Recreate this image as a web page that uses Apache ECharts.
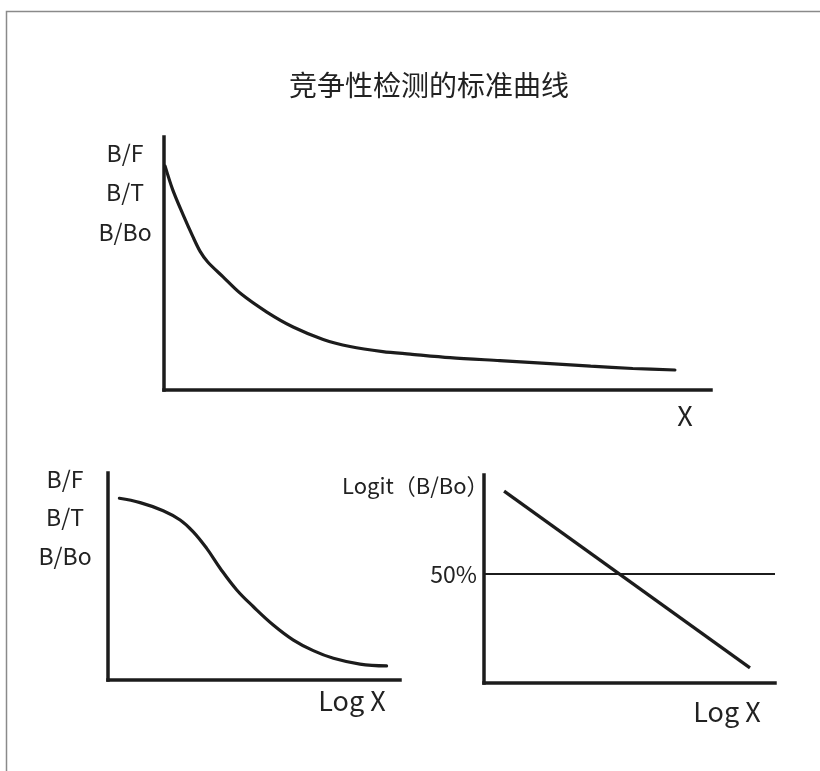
<!DOCTYPE html>
<html>
<head>
<meta charset="utf-8">
<script src="https://cdn.jsdelivr.net/npm/echarts@6/dist/echarts.min.js"></script>
<style>
html,body{margin:0;padding:0;background:#fff;}
#chart{width:820px;height:771px;}
</style>
</head>
<body>
<div id="chart"></div>
<script>
// ---- data ----
const titleText = '竞争性检测的标准曲线';
const yLabels = ['B/F', 'B/T', 'B/Bo'];
const topXName = 'X';
const logXName = 'Log X';
const logitName = 'Logit（B/Bo）';
const midLabel = '50%';

// top: B/F vs X (hyperbolic decay)
const topX = [0.2, 1.6, 3.5, 5.3, 6.6, 8.0, 10.8, 13.9, 18.8, 23.6, 29.1, 34.0, 40.0, 45.0, 52.3, 61.4, 70.6, 78.0, 85.7, 93.4];
const topY = [88.5, 79.1, 69.2, 60.5, 54.8, 50.6, 44.7, 38.3, 30.8, 24.9, 20.0, 17.2, 15.2, 14.2, 12.8, 11.6, 10.4, 9.4, 8.5, 7.9];

// bottom-left: B/F vs Log X (sigmoid)
const sigX = [3.9, 11.0, 18.9, 24.7, 29.2, 33.8, 38.4, 44.1, 49.8, 56.6, 63.5, 70.3, 77.2, 86.3, 95.4];
const sigY = [87.8, 85.7, 81.8, 77.3, 71.6, 63.6, 54.0, 43.5, 35.4, 26.6, 19.3, 14.2, 10.5, 7.7, 6.8];

// bottom-right: Logit(B/Bo) vs Log X (straight line)
const logitX = [6.9, 91.4];
const logitY = [3.35, -3.79];
const midValue = 0; // logit value of 50%

// ---- chart ----
const INK = '#1c1c1c';
const TXT = '#222';
const FONT = '"Noto Sans CJK SC", "Noto Sans", sans-serif';

function zip(a, b) { return a.map((v, i) => [v, b[i]]); }

function axisBase(extra) {
  return Object.assign({
    type: 'value',
    axisLine: { show: true, onZero: false, lineStyle: { color: INK, width: 3.5, cap: 'square' } },
    axisTick: { show: false },
    axisLabel: { show: false },
    splitLine: { show: false }
  }, extra);
}

const chart = echarts.init(document.getElementById('chart'), null, { renderer: 'canvas' });

const graphics = [
  { type: 'rect', silent: true, shape: { x: 6.5, y: 11.5, width: 1000, height: 1000 },
    style: { fill: 'none', stroke: '#8a8a8a', lineWidth: 1.5 } }
];
yLabels.forEach((t, i) => {
  graphics.push({ type: 'text', x: 125, y: 153 + i * 39.5,
    style: { text: t, font: '23px ' + FONT, fill: TXT, textAlign: 'center', textVerticalAlign: 'middle' } });
  graphics.push({ type: 'text', x: 65, y: 479 + i * 38.5,
    style: { text: t, font: '23px ' + FONT, fill: TXT, textAlign: 'center', textVerticalAlign: 'middle' } });
});
graphics.push({ type: 'text', x: 685, y: 416,
  style: { text: topXName, font: '27px ' + FONT, fill: TXT, textAlign: 'center', textVerticalAlign: 'middle' } });
graphics.push({ type: 'text', x: 352, y: 701,
  style: { text: logXName, font: '27px ' + FONT, fill: TXT, textAlign: 'center', textVerticalAlign: 'middle' } });
graphics.push({ type: 'text', x: 727, y: 712,
  style: { text: logXName, font: '27px ' + FONT, fill: TXT, textAlign: 'center', textVerticalAlign: 'middle' } });
graphics.push({ type: 'text', x: 342, y: 486,
  style: { text: logitName, font: '22px ' + FONT, fill: TXT, textAlign: 'left', textVerticalAlign: 'middle' } });

const option = {
  animation: false,
  backgroundColor: '#fff',
  title: {
    text: titleText, left: 424, top: 80, textAlign: 'center', textVerticalAlign: 'middle',
    textStyle: { fontFamily: FONT, fontSize: 28, fontWeight: 'normal', color: TXT }
  },
  grid: [
    { left: 164, top: 137, width: 547, height: 253 },
    { left: 108, top: 473, width: 292, height: 207 },
    { left: 484, top: 475, width: 291, height: 208 }
  ],
  xAxis: [
    axisBase({ gridIndex: 0, min: 0, max: 100 }),
    axisBase({ gridIndex: 1, min: 0, max: 100 }),
    axisBase({ gridIndex: 2, min: 0, max: 100 })
  ],
  yAxis: [
    axisBase({ gridIndex: 0, min: 0, max: 100 }),
    axisBase({ gridIndex: 1, min: 0, max: 100 }),
    axisBase({ gridIndex: 2, min: -4.4, max: 4,
      axisLabel: { show: true, customValues: [midValue], formatter: () => midLabel, margin: 7,
        fontFamily: FONT, fontSize: 23, color: TXT } })
  ],
  series: [
    { type: 'line', xAxisIndex: 0, yAxisIndex: 0, data: zip(topX, topY), smooth: 0.3,
      showSymbol: false, silent: true, lineStyle: { color: INK, width: 3.2, cap: 'round' } },
    { type: 'line', xAxisIndex: 1, yAxisIndex: 1, data: zip(sigX, sigY), smooth: 0.4,
      showSymbol: false, silent: true, lineStyle: { color: INK, width: 3.2, cap: 'round' } },
    { type: 'line', xAxisIndex: 2, yAxisIndex: 2, data: zip(logitX, logitY),
      showSymbol: false, silent: true, lineStyle: { color: INK, width: 3.2, cap: 'butt' },
      markLine: { silent: true, symbol: 'none', label: { show: false },
        lineStyle: { color: INK, width: 2, type: 'solid' },
        data: [{ yAxis: midValue }] } }
  ],
  graphic: graphics
};
chart.setOption(option);
</script>
</body>
</html>
